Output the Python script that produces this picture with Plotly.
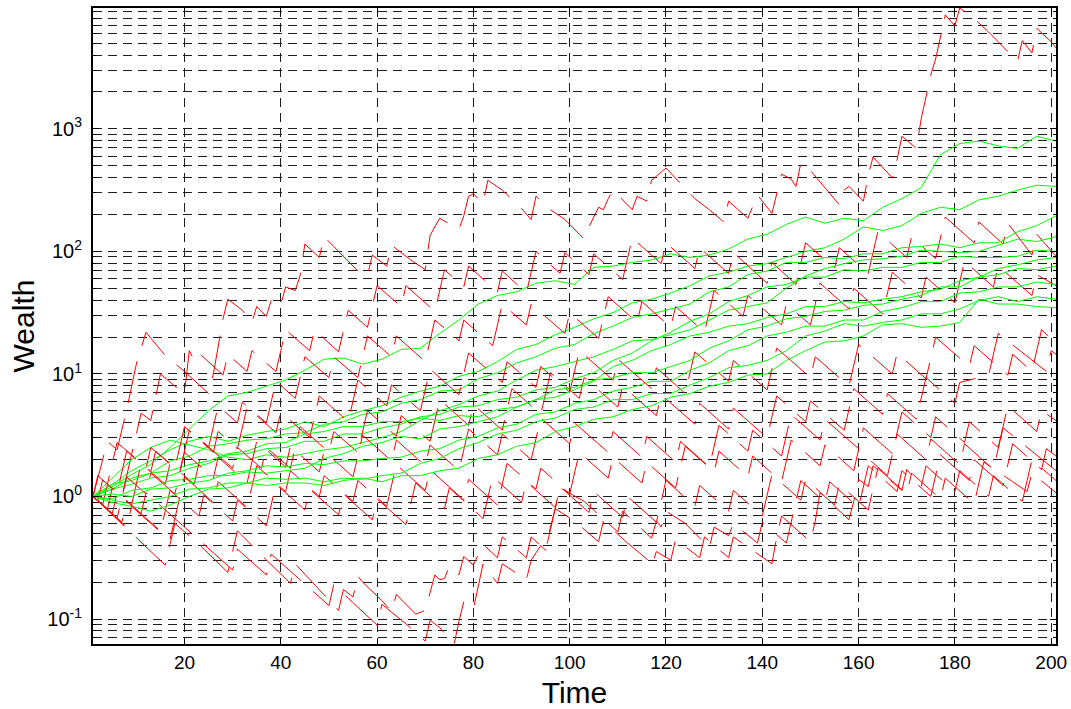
import numpy as np
import plotly.graph_objects as go

# ---------------- data ----------------
# Green paths: log10(wealth) sampled every 4 time steps (t = 1, 5, ..., 201)
T_GREEN = list(range(1, 202, 4))

G1 = [0, 0.08, 0.18, 0.26, 0.4, 0.55, 0.7, 0.82, 0.85, 0.9, 0.95, 1.03, 1.12, 1.13, 1.08, 1.12, 1.2,
      1.21, 1.33, 1.44, 1.57, 1.64, 1.67, 1.74, 1.76, 1.73, 1.87, 1.88, 1.91, 1.93, 1.98, 1.95, 1.97,
      2.02, 2.1, 2.14, 2.22, 2.28, 2.23, 2.27, 2.25, 2.36, 2.43, 2.52, 2.79, 2.88, 2.9, 2.86, 2.84, 2.94, 2.9]
G2 = [0, 0.1, 0.21, 0.29, 0.38, 0.45, 0.49, 0.45, 0.5, 0.53, 0.55, 0.61, 0.57, 0.65, 0.7, 0.74, 0.81,
      0.86, 0.9, 0.98, 1.02, 1.1, 1.2, 1.24, 1.32, 1.38, 1.45, 1.5, 1.58, 1.61, 1.66, 1.72, 1.8, 1.83,
      1.88, 1.9, 1.95, 2.0, 2.03, 2.1, 2.2, 2.17, 2.21, 2.31, 2.36, 2.34, 2.42, 2.45, 2.5, 2.54, 2.53]
G3 = [0, 0.06, 0.15, 0.19, 0.29, 0.33, 0.41, 0.43, 0.46, 0.47, 0.51, 0.52, 0.59, 0.61, 0.67, 0.69,
      0.76, 0.79, 0.86, 0.87, 0.96, 1.01, 1.09, 1.14, 1.21, 1.24, 1.33, 1.39, 1.46, 1.49, 1.53, 1.57,
      1.67, 1.71, 1.81, 1.84, 1.91, 1.91, 1.95, 1.94, 1.98, 1.98, 2.03, 2.04, 2.06, 2.03, 2.07, 2.07,
      2.16, 2.21, 2.29]
G4 = [0, 0.15, 0.3, 0.4, 0.46, 0.42, 0.38, 0.32, 0.3, 0.34, 0.32, 0.35, 0.38, 0.4, 0.44, 0.48, 0.53,
      0.62, 0.7, 0.75, 0.82, 0.86, 0.95, 1.03, 1.06, 1.1, 1.14, 1.2, 1.27, 1.28, 1.32, 1.36, 1.44, 1.52,
      1.55, 1.58, 1.7, 1.8, 1.86, 1.9, 1.93, 1.94, 1.96, 2.01, 2.0, 1.99, 2.0, 2.05, 2.1, 2.08, 2.12]
G5 = [0, 0.06, 0.1, 0.15, 0.17, 0.23, 0.27, 0.34, 0.35, 0.39, 0.4, 0.45, 0.45, 0.51, 0.51, 0.56, 0.59,
      0.65, 0.67, 0.73, 0.74, 0.79, 0.81, 0.87, 0.89, 0.96, 1.01, 1.11, 1.17, 1.27, 1.34, 1.43, 1.49,
      1.59, 1.64, 1.71, 1.73, 1.79, 1.79, 1.85, 1.84, 1.87, 1.87, 1.91, 1.91, 1.96, 1.95, 1.95, 1.96,
      2.01, 2.0]
G6 = [0, 0.1, 0.13, 0.19, 0.21, 0.26, 0.29, 0.35, 0.37, 0.43, 0.44, 0.51, 0.53, 0.57, 0.57, 0.61, 0.61,
      0.64, 0.62, 0.66, 0.65, 0.71, 0.73, 0.79, 0.81, 0.87, 0.94, 1.06, 1.11, 1.19, 1.24, 1.31, 1.34,
      1.39, 1.41, 1.46, 1.49, 1.55, 1.55, 1.59, 1.58, 1.61, 1.63, 1.67, 1.69, 1.76, 1.79, 1.86, 1.89,
      1.93, 1.95]
G7 = [0, -0.02, 0.05, 0.07, 0.13, 0.14, 0.17, 0.17, 0.2, 0.19, 0.21, 0.23, 0.31, 0.35, 0.41, 0.44,
      0.49, 0.47, 0.55, 0.57, 0.61, 0.65, 0.73, 0.79, 0.87, 0.89, 0.95, 0.97, 1.01, 1.01, 1.06, 1.11,
      1.21, 1.27, 1.36, 1.39, 1.45, 1.47, 1.51, 1.52, 1.56, 1.57, 1.61, 1.64, 1.71, 1.71, 1.79, 1.81,
      1.86, 1.85, 1.88]
G8 = [0, 0.02, 0.0, 0.06, 0.07, 0.11, 0.13, 0.19, 0.21, 0.25, 0.24, 0.27, 0.26, 0.29, 0.29, 0.31, 0.32,
      0.37, 0.39, 0.46, 0.49, 0.56, 0.59, 0.67, 0.69, 0.76, 0.79, 0.86, 0.89, 0.94, 0.94, 1.03, 1.09,
      1.19, 1.23, 1.31, 1.34, 1.39, 1.39, 1.44, 1.44, 1.51, 1.54, 1.59, 1.59, 1.66, 1.67, 1.71, 1.71,
      1.75, 1.73]
G9 = [0, -0.03, -0.06, -0.03, 0.0, 0.06, 0.07, 0.11, 0.11, 0.15, 0.14, 0.15, 0.12, 0.15, 0.14, 0.17,
      0.19, 0.27, 0.31, 0.39, 0.44, 0.51, 0.54, 0.61, 0.64, 0.71, 0.73, 0.79, 0.79, 0.84, 0.84, 0.91,
      0.97, 1.05, 1.07, 1.11, 1.19, 1.31, 1.35, 1.41, 1.39, 1.42, 1.44, 1.49, 1.49, 1.53, 1.6, 1.63,
      1.59, 1.63, 1.61]
G10 = [0, -0.05, -0.08, -0.12, -0.07, 0.0, 0.06, 0.07, 0.11, 0.09, 0.11, 0.11, 0.09, 0.13, 0.15, 0.12,
       0.17, 0.17, 0.21, 0.23, 0.31, 0.34, 0.41, 0.44, 0.53, 0.57, 0.63, 0.65, 0.71, 0.74, 0.81, 0.84,
       0.9, 0.93, 0.99, 1.0, 1.11, 1.19, 1.26, 1.27, 1.31, 1.4, 1.41, 1.38, 1.39, 1.42, 1.61, 1.57,
       1.57, 1.55, 1.54]
GREEN = [G1, G2, G3, G4, G5, G6, G7, G8, G9, G10]

# Red paths: (time, log10(wealth)) at the turning points of each saw-tooth path
R1 = [(1, 0), (4, 0.45), (6, 0.38), (8, 0.71), (10, 1.08), (12, 1.34), (16, 1.15), (20, 1.02), (25, 0.84),
      (26, 1.0), (28, 1.45), (29, 1.61), (32, 1.52), (34, 1.42), (35, 1.55), (37, 1.47), (38, 1.6),
      (40, 1.56), (41, 1.71), (43, 1.68), (44, 1.8), (45, 2.06), (48, 1.95), (49, 2.12), (51, 2.04),
      (56, 1.84), (58, 1.8), (59, 1.97), (62, 1.88), (63, 2.05), (67, 1.93), (70, 1.85), (71, 2.13),
      (73, 2.27), (77, 2.18), (78, 2.29), (79, 2.45), (80, 2.47), (82, 2.39), (83, 2.58), (86, 2.5),
      (90, 2.35), (92, 2.26), (93, 2.45), (96, 2.34), (99, 2.26), (102, 2.14), (103, 2.1), (104, 2.2),
      (106, 2.36), (107, 2.34), (108, 2.43), (109, 2.5), (113, 2.34), (114, 2.45), (116, 2.41),
      (117, 2.58), (119, 2.65), (120, 2.68), (126, 2.43), (129, 2.34), (132, 2.24), (133, 2.41),
      (137, 2.27), (139, 2.46), (142, 2.31), (144, 2.63), (146, 2.59), (147, 2.53), (148, 2.72),
      (150, 2.66), (156, 2.38), (157, 2.5), (158, 2.53), (161, 2.41), (162, 2.62), (163, 2.77),
      (167, 2.6), (168, 2.75), (169, 2.94), (172, 2.84), (173, 3.08), (175, 3.44), (176, 3.57),
      (178, 3.93), (180, 3.84), (181, 3.986), (184, 3.9), (187, 3.79), (193, 3.55), (194, 3.72),
      (196, 3.62), (197, 3.82), (200, 3.71), (201, 3.66)]
R2 = [(1, 0), (2, 0.17), (4, 0.1), (5, 0.27), (6, 0.44), (9, 0.34), (11, 0.68), (13, 0.62), (15, 1.0),
      (18, 0.9), (20, 0.84), (21, 1.19), (22, 1.11), (23, 1.17), (28, 0.99), (29, 1.16), (33, 1.02),
      (34, 1.19), (39, 1.02), (40, 1.19), (41, 1.36), (46, 1.19), (47, 1.36), (52, 1.18), (53, 1.35),
      (54, 1.52), (58, 1.38), (59, 1.55), (60, 1.72), (65, 1.55), (66, 1.72), (72, 1.51), (73, 1.68),
      (74, 1.85), (78, 1.71), (79, 1.88), (85, 1.67), (86, 1.84), (91, 1.66), (92, 1.83), (93, 2.0),
      (98, 1.82), (99, 1.99), (104, 1.81), (105, 1.98), (111, 1.77), (112, 1.94), (113, 2.11),
      (119, 1.9), (120, 2.07), (126, 1.86), (127, 2.03), (133, 1.82), (134, 1.99), (141, 1.74),
      (142, 1.91), (147, 1.73), (148, 1.9), (149, 2.07), (155, 1.86), (156, 2.03), (162, 1.82),
      (163, 1.99), (164, 2.16), (170, 1.95), (171, 2.12), (176, 1.94), (177, 2.11), (178, 2.28),
      (184, 2.07), (185, 2.24), (190, 2.06), (191, 2.23), (196, 1.97), (197, 2.14), (201, 1.96)]
R3 = [(1, 0), (3, -0.07), (4, 0.1), (7, 0.0), (8, 0.17), (9, 0.34), (13, 0.2), (14, 0.37), (19, 0.2),
      (20, 0.37), (21, 0.54), (25, 0.4), (26, 0.57), (27, 0.74), (31, 0.6), (32, 0.77), (37, 0.6),
      (38, 0.77), (39, 0.94), (43, 0.8), (44, 0.97), (45, 1.14), (50, 0.97), (51, 1.14), (56, 0.97),
      (57, 1.14), (58, 1.31), (63, 1.14), (64, 1.31), (70, 1.1), (71, 1.27), (72, 1.44), (77, 1.27),
      (78, 1.44), (84, 1.23), (85, 1.4), (86, 1.57), (91, 1.4), (92, 1.57), (99, 1.33), (100, 1.5),
      (106, 1.29), (107, 1.46), (108, 1.63), (114, 1.42), (115, 1.59), (121, 1.38), (122, 1.55),
      (128, 1.34), (129, 1.51), (130, 1.68), (136, 1.47), (137, 1.64), (144, 1.4), (145, 1.57),
      (150, 1.4), (151, 1.57), (152, 1.74), (158, 1.53), (159, 1.7), (165, 1.49), (166, 1.66),
      (167, 1.83), (173, 1.62), (174, 1.79), (180, 1.58), (181, 1.75), (182, 1.92), (188, 1.71),
      (189, 1.88), (196, 1.64), (197, 1.81), (201, 1.72)]
R4 = [(1, 0), (2, -0.035), (3, 0.135), (6, 0.03), (7, 0.2), (8, 0.37), (12, 0.23), (13, 0.4), (18, 0.23),
      (19, 0.4), (20, 0.57), (26, 0.36), (27, 0.53), (31, 0.39), (32, 0.56), (33, 0.73), (39, 0.52),
      (40, 0.69), (46, 0.48), (47, 0.65), (48, 0.82), (54, 0.61), (55, 0.78), (56, 0.95), (62, 0.74),
      (63, 0.91), (69, 0.7), (70, 0.87), (71, 1.04), (77, 0.83), (78, 1.0), (79, 1.17), (86, 0.93),
      (87, 1.1), (93, 0.89), (94, 1.06), (100, 0.85), (101, 1.02), (102, 1.19), (109, 0.95),
      (110, 1.12), (117, 0.88), (118, 1.05), (124, 0.84), (125, 1.01), (126, 1.18), (133, 0.94),
      (134, 1.11), (141, 0.87), (142, 1.04), (143, 1.21), (150, 0.97), (151, 1.14), (158, 0.9),
      (159, 1.07), (160, 1.24), (167, 1.0), (168, 1.17), (174, 0.96), (175, 1.13), (176, 1.3),
      (183, 1.06), (184, 1.23), (191, 0.99), (192, 1.16), (196, 1.02), (197, 1.19), (198, 1.36),
      (201, 1.25)]
R5 = [(1, 0), (5, -0.14), (6, 0.03), (9, -0.07), (10, 0.1), (11, 0.27), (16, 0.1), (17, 0.27), (22, 0.1),
      (23, 0.27), (24, 0.44), (30, 0.23), (31, 0.4), (36, 0.23), (37, 0.4), (42, 0.23), (43, 0.4),
      (44, 0.57), (50, 0.36), (51, 0.53), (56, 0.36), (57, 0.53), (58, 0.7), (64, 0.49), (65, 0.66),
      (71, 0.45), (72, 0.62), (73, 0.79), (79, 0.58), (80, 0.75), (86, 0.54), (87, 0.71), (88, 0.88),
      (94, 0.67), (95, 0.84), (96, 1.01), (102, 0.8), (103, 0.97), (110, 0.73), (111, 0.9),
      (118, 0.66), (119, 0.83), (126, 0.59), (127, 0.76), (133, 0.55), (134, 0.72), (141, 0.48),
      (142, 0.65), (143, 0.82), (149, 0.61), (150, 0.78), (157, 0.54), (158, 0.71), (159, 0.88),
      (165, 0.67), (166, 0.84), (172, 0.63), (173, 0.8), (174, 0.97), (180, 0.76), (181, 0.93),
      (187, 0.99), (188, 1.16), (189, 1.33), (199, 1.02), (200, 1.19), (201, 1.16)]
R6 = [(1, 0), (6, -0.18), (7, -0.01), (8, 0.16), (12, 0.02), (13, 0.19), (18, 0.02), (19, 0.19),
      (20, 0.36), (26, 0.15), (27, 0.32), (33, 0.11), (34, 0.28), (35, 0.45), (41, 0.24), (42, 0.41),
      (48, 0.2), (49, 0.37), (55, 0.16), (56, 0.33), (57, 0.5), (63, 0.29), (64, 0.46), (70, 0.25),
      (71, 0.42), (77, 0.21), (78, 0.38), (79, 0.55), (85, 0.34), (86, 0.51), (92, 0.3), (93, 0.47),
      (94, 0.64), (100, 0.43), (101, 0.6), (108, 0.36), (109, 0.53), (115, 0.32), (116, 0.49),
      (122, 0.28), (123, 0.45), (129, 0.24), (130, 0.41), (131, 0.58), (137, 0.37), (138, 0.54),
      (144, 0.33), (145, 0.5), (146, 0.67), (152, 0.46), (153, 0.63), (160, 0.39), (161, 0.56),
      (167, 0.35), (168, 0.52), (169, 0.69), (175, 0.48), (176, 0.65), (182, 0.44), (183, 0.61),
      (189, 0.4), (190, 0.57), (191, 0.74), (197, 0.53), (198, 0.7), (201, 0.62)]
R7 = [(1, 0), (4, -0.1), (5, 0.07), (11, -0.14), (12, 0.03), (18, -0.18), (19, -0.01), (20, 0.16),
      (26, -0.05), (27, 0.12), (33, -0.09), (34, 0.08), (35, 0.25), (41, 0.04), (42, 0.21), (48, 0.0),
      (49, 0.17), (55, -0.04), (56, 0.13), (62, -0.08), (63, 0.09), (64, 0.26), (70, 0.05), (71, 0.22),
      (78, -0.03), (79, 0.14), (85, -0.07), (86, 0.1), (87, 0.27), (93, 0.06), (94, 0.23), (100, 0.02),
      (101, 0.19), (102, 0.36), (108, 0.15), (109, 0.32), (115, 0.11), (116, 0.28), (122, 0.07),
      (123, 0.24), (124, 0.41), (130, 0.2), (131, 0.37), (137, 0.16), (138, 0.33), (144, 0.12),
      (145, 0.29), (146, 0.46), (152, 0.25), (153, 0.42), (159, 0.21), (160, 0.38), (166, 0.17),
      (167, 0.34), (168, 0.51), (174, 0.3), (175, 0.47), (181, 0.26), (182, 0.43), (188, 0.22),
      (189, 0.39), (190, 0.56), (201, 0.21)]
R8 = [(1, 0), (8, -0.25), (9, -0.08), (15, -0.29), (16, -0.12), (17, 0.05), (23, -0.16), (24, 0.01),
      (30, -0.2), (31, -0.03), (37, -0.24), (38, -0.07), (39, 0.1), (45, -0.11), (46, 0.06), (52, -0.15),
      (53, 0.02), (59, -0.19), (60, -0.02), (66, -0.23), (67, -0.06), (68, 0.11), (74, -0.1), (75, 0.07),
      (82, -0.18), (83, -0.01), (84, 0.16), (90, -0.05), (91, 0.12), (97, -0.09), (98, 0.08),
      (104, -0.13), (105, 0.04), (111, -0.17), (112, 0.0), (118, -0.21), (119, -0.04), (120, 0.13),
      (126, -0.08), (127, 0.09), (133, -0.12), (134, 0.05), (140, -0.16), (141, 0.01), (142, 0.18),
      (148, -0.03), (149, 0.14), (155, -0.07), (156, 0.1), (162, -0.11), (163, 0.06), (164, 0.23),
      (170, 0.02), (171, 0.19), (177, -0.02), (178, 0.15), (184, -0.06), (185, 0.11), (186, 0.28),
      (192, 0.12), (195, 0.04), (196, 0.19), (201, 0.03)]
R9 = [(1, 0), (16, -0.56), (17, -0.39), (18, -0.22), (23, -0.39), (29, -0.62), (30, -0.45), (31, -0.28),
      (36, -0.48), (42, -0.71), (43, -0.55), (49, -0.8), (52, -0.93), (53, -0.76), (55, -0.82),
      (56, -0.65), (57, -0.7), (61, -0.85), (63, -0.94), (64, -0.8), (68, -0.96), (70, -0.93),
      (72, -0.64), (73, -0.68), (74, -0.67), (75, -0.57), (77, -0.64), (78, -0.49), (80, -0.56),
      (82, -0.39), (85, -0.5), (86, -0.33), (91, -0.5), (92, -0.33), (95, -0.44), (96, -0.27),
      (97, -0.1), (98, 0.07), (103, -0.04), (110, -0.29), (111, -0.12), (115, -0.27), (117, -0.34),
      (118, -0.2), (119, -0.25), (120, -0.12), (124, -0.22), (129, -0.42), (130, -0.25), (133, -0.32),
      (134, -0.22), (139, -0.38), (140, -0.21), (145, -0.38), (146, -0.21), (147, -0.04), (148, 0.13),
      (153, -0.05), (154, 0.12), (160, -0.09), (161, 0.08), (162, 0.25), (168, 0.04), (169, 0.21),
      (175, 0.0), (176, 0.17), (177, 0.34), (183, 0.13), (184, 0.3), (190, 0.09), (191, 0.26),
      (192, 0.43), (198, 0.22), (199, 0.39), (201, 0.33)]
R10 = [(1, 0), (7, -0.21), (8, -0.04), (14, -0.25), (17, -0.35), (18, -0.18), (24, -0.39), (30, -0.6),
       (31, -0.43), (37, -0.64), (38, -0.47), (44, -0.68), (50, -0.89), (51, -0.72), (56, -0.9),
       (60, -1.05), (61, -0.88), (66, -1.04), (70, -1.18), (71, -1.01), (73, -1.07), (76, -1.204),
       (77, -1.02), (78, -0.86), (80, -0.92), (81, -0.72), (82, -0.55), (85, -0.71), (86, -0.55),
       (91, -0.68), (92, -0.52), (93, -0.46), (94, -0.4), (95, -0.44), (96, -0.25), (97, -0.1),
       (101, -0.2), (106, -0.37), (107, -0.2), (112, -0.38), (116, -0.51), (117, -0.57), (118, -0.45),
       (121, -0.52), (122, -0.35), (127, -0.5), (128, -0.33), (133, -0.5), (134, -0.33), (142, -0.55),
       (143, -0.33), (144, -0.16), (150, -0.37), (151, -0.2), (152, 0.03), (158, -0.19), (159, -0.04),
       (160, 0.14), (162, 0.08), (163, 0.25), (169, 0.05), (170, 0.22), (173, 0.08), (174, 0.25),
       (180, 0.04), (181, 0.21), (187, 0.0), (188, 0.17), (194, -0.04), (195, 0.13), (196, 0.3),
       (201, 0.13)]
RED = [R1, R2, R3, R4, R5, R6, R7, R8, R9, R10]

X_TICKS = [20, 40, 60, 80, 100, 120, 140, 160, 180, 200]
Y_TICKS = [0.1, 1, 10, 100, 1000]
Y_TICKTEXT = ['10<sup>-1</sup>', '10<sup>0</sup>', '10<sup>1</sup>', '10<sup>2</sup>', '10<sup>3</sup>']

# ---------------- figure ----------------
fig = go.Figure()
for g, r in zip(GREEN, RED):
    fig.add_trace(go.Scatter(x=T_GREEN, y=np.power(10.0, g), mode='lines',
                             line=dict(color='#00ff00', width=1), hoverinfo='skip'))
    rt, rl = zip(*r)
    fig.add_trace(go.Scatter(x=list(rt), y=np.power(10.0, rl), mode='lines',
                             line=dict(color='#ff0000', width=1, dash='43px,16px'),
                             hoverinfo='skip'))

minor_vals = [m * 10.0 ** e for e in range(-2, 4) for m in range(2, 10)]
GRID = 'rgb(30,30,30)'
FONT = 'Liberation Sans, Arial, Helvetica, sans-serif'

fig.update_layout(
    width=1071, height=709, autosize=False,
    margin=dict(l=93, r=4, t=8, b=59),
    paper_bgcolor='white', plot_bgcolor='white',
    showlegend=False,
    font=dict(family=FONT, size=19, color='black'),
)
fig.update_xaxes(
    range=[1, 201], tickmode='array', tickvals=X_TICKS,
    ticks='inside', ticklen=6, tickwidth=1, tickcolor='black',
    showline=True, linecolor='black', linewidth=2, mirror='ticks',
    showgrid=True, gridcolor=GRID, gridwidth=1, griddash='9px,6px',
    zeroline=False, ticklabeloverflow='allow',
    title=dict(text='Time', font=dict(size=30, family=FONT), standoff=11),
    tickfont=dict(size=19),
)
fig.update_yaxes(
    type='log', range=[-1.204, 3.986], tickmode='array', tickvals=Y_TICKS, ticktext=Y_TICKTEXT,
    ticks='inside', ticklen=6, tickwidth=1, tickcolor='black',
    showline=True, linecolor='black', linewidth=2, mirror='ticks',
    showgrid=True, gridcolor=GRID, gridwidth=1, griddash='9px,6px',
    minor=dict(tickmode='array', tickvals=minor_vals, ticks='inside', ticklen=3,
               tickcolor='black', showgrid=True, gridcolor=GRID, gridwidth=1,
               griddash='9px,6px'),
    zeroline=False, ticklabelstandoff=5, ticklabeloverflow='allow',
    title=dict(text='Wealth', font=dict(size=30, family=FONT), standoff=4),
    tickfont=dict(size=20),
)

# remove the default page margin so the 1071x709 figure fills the window exactly
fig.write_html('out.html',
               config={'displayModeBar': False, 'responsive': False},
               post_script="document.body.style.margin='0';document.body.style.overflow='hidden';")
